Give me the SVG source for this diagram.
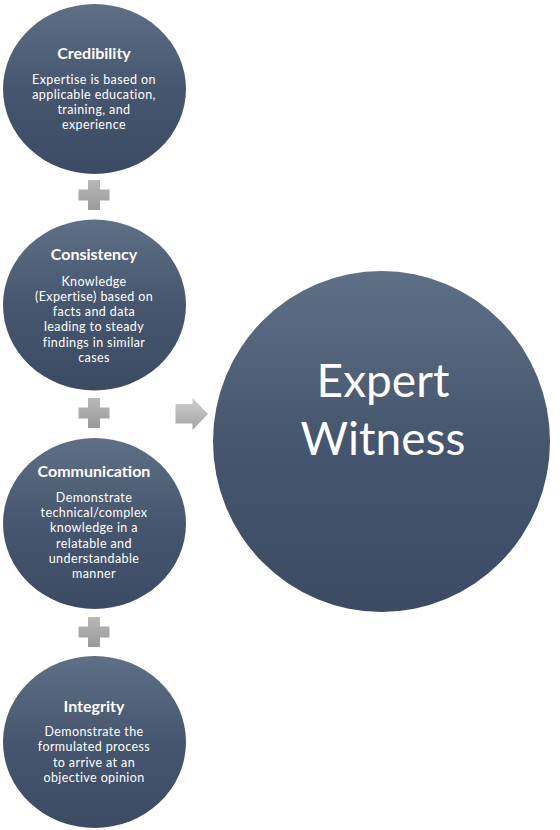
<svg xmlns="http://www.w3.org/2000/svg" width="560" height="830" viewBox="0 0 560 830">
<defs>
<linearGradient id="gc" x1="0" y1="0" x2="0" y2="1">
<stop offset="0" stop-color="#5f6f85"/>
<stop offset="0.5" stop-color="#46566e"/>
<stop offset="1" stop-color="#3c4b63"/>
</linearGradient>
<linearGradient id="gp" x1="0" y1="0" x2="0" y2="1">
<stop offset="0" stop-color="#b8b8b8"/>
<stop offset="1" stop-color="#9a9a9a"/>
</linearGradient>
<linearGradient id="ga" x1="0" y1="0" x2="0" y2="1">
<stop offset="0" stop-color="#cfcfcf"/>
<stop offset="1" stop-color="#a3a3a3"/>
</linearGradient>
</defs>
<style>
.c{fill:url(#gc);}
.t{font-family:Lato,"Open Sans",sans-serif;font-weight:bold;font-size:16px;fill:#fff;text-anchor:middle;}
.b{font-family:Lato,"Open Sans",sans-serif;font-size:12.5px;letter-spacing:0.4px;fill:#fff;text-anchor:middle;}
.big{font-family:Lato,"Open Sans",sans-serif;font-size:46px;fill:#fff;text-anchor:middle;}
.p{fill:url(#gp);}
.a{fill:url(#ga);}
</style>
<rect width="560" height="830" fill="#fff"/>
<g id="credibility">
<ellipse class="c" cx="94.5" cy="89" rx="91.5" ry="85"/>
<text class="t" x="94" y="59">Credibility</text>
<text class="b" x="94" y="83.5"><tspan x="94">Expertise is based on</tspan><tspan x="94" dy="15.2">applicable education,</tspan><tspan x="94" dy="15.2">training, and</tspan><tspan x="94" dy="15.2">experience</tspan></text>
</g>
<g id="consistency">
<ellipse class="c" cx="94.5" cy="305" rx="91.5" ry="85.5"/>
<text class="t" x="94" y="260">Consistency</text>
<text class="b" x="94" y="285.5"><tspan x="94">Knowledge</tspan><tspan x="94" dy="15.3">(Expertise) based on</tspan><tspan x="94" dy="15.3">facts and data</tspan><tspan x="94" dy="15.3">leading to steady</tspan><tspan x="94" dy="15.3">findings in similar</tspan><tspan x="94" dy="15.3">cases</tspan></text>
</g>
<g id="communication">
<ellipse class="c" cx="94.5" cy="523.5" rx="91.5" ry="85.5"/>
<text class="t" x="94" y="477">Communication</text>
<text class="b" x="94" y="502"><tspan x="94">Demonstrate</tspan><tspan x="94" dy="15.2">technical/complex</tspan><tspan x="94" dy="15.2">knowledge in a</tspan><tspan x="94" dy="15.2">relatable and</tspan><tspan x="94" dy="15.2">understandable</tspan><tspan x="94" dy="15.2">manner</tspan></text>
</g>
<g id="integrity">
<ellipse class="c" cx="94.5" cy="742" rx="91.5" ry="86"/>
<text class="t" x="94" y="712">Integrity</text>
<text class="b" x="94" y="735.5"><tspan x="94">Demonstrate the</tspan><tspan x="94" dy="15.5">formulated process</tspan><tspan x="94" dy="15.5">to arrive at an</tspan><tspan x="94" dy="15.5">objective opinion</tspan></text>
</g>
<g id="expert-witness">
<ellipse class="c" cx="381.5" cy="441.5" rx="168.5" ry="170.5"/>
<text class="big" x="383" y="397"><tspan x="383">Expert</tspan><tspan x="383" dy="58">Witness</tspan></text>
</g>
<g id="connectors">
<path class="p" d="M88,180 h12 v9.5 h9.5 v11 h-9.5 v9.5 h-12 v-9.5 h-9.5 v-11 h9.5 z"/>
<path class="p" d="M88,398 h12 v9.5 h9.5 v11 h-9.5 v9.5 h-12 v-9.5 h-9.5 v-11 h9.5 z"/>
<path class="p" d="M88,617 h12 v9.5 h9.5 v11 h-9.5 v9.5 h-12 v-9.5 h-9.5 v-11 h9.5 z"/>
<path class="a" d="M175.5,404 h17 v-6 l15.5,16 l-15.5,16 v-6.5 h-17 z"/>
</g>
</svg>
